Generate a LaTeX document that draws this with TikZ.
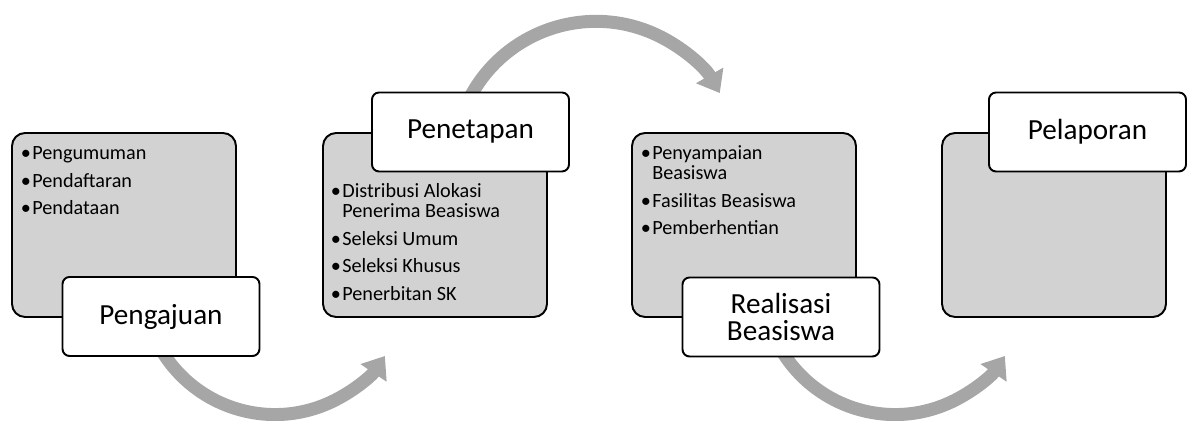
\documentclass[tikz,border=0pt]{standalone}
\usepackage{fontspec}
\setmainfont{Carlito}
\usetikzlibrary{arrows.meta, backgrounds}
\definecolor{boxgray}{RGB}{210,210,210}
\definecolor{arrowgray}{RGB}{166,166,166}
\tikzset{
    outer/.style ={draw, fill=boxgray, line width=1.1pt, rounded corners=2.6mm, minimum width=4.48cm, minimum height=3.68cm},
    title/.style ={draw, fill=white, line width=1.1pt, rounded corners=1.4mm, minimum width=3.94cm, minimum height=1.58cm, align=center, font=\fontsize{16.6}{15.9}\selectfont},
    items/.style ={anchor=base west, inner sep=0pt, font=\fontsize{11.5}{11.3}\selectfont},
    flow/.style ={draw=arrowgray, line width=7.4pt, -{Triangle[length=11.6pt, width=17.2pt]}}
}
\newcommand{\bul}[1]{\hangindent=4mm\hangafter=1\noindent\makebox[4mm][l]{\hspace{1.7mm}\textbullet}#1\par}
\newcommand{\blist}[1]{\parbox[t]{4.1cm}{\raggedright\setlength{\parskip}{4.3pt}#1}}

\begin{document}
\begin{tikzpicture}[x=0.02cm, y=0.02cm]
  \useasboundingbox (0,0) rectangle (1187,421);

  \node[outer] (g1) at (124,196) {};
  \node[outer] (g2) at (435,196) {};
  \node[outer] (g3) at (744,196) {};
  \node[outer] (g4) at (1054,196) {};

  \node[items] (l1) at (12,261) {\blist{\bul{Pengumuman}\bul{Pendaftaran}\bul{Pendataan}}};
  \node[items] (l2) at (322,223) {\blist{\bul{Distribusi Alokasi\newline Penerima Beasiswa}\bul{Seleksi Umum}\bul{Seleksi Khusus}\bul{Penerbitan SK}}};
  \node[items] (l3) at (632,261) {\blist{\bul{Penyampaian\newline Beasiswa}\bul{Fasilitas Beasiswa}\bul{Pemberhentian}}};

  \node[title] (t1) at (161,104.5) {Pengajuan};
  \node[title] (t2) at (470.5,289) {Penetapan};
  \node[title] (t3) at (781,104) {Realisasi\\Beasiswa};
  \node[title] (t4) at (1087.5,289) {Pelaporan};

  % arrows behind the boxes
  \begin{scope}[on background layer]
    \coordinate (s1) at (155,82.9);
    \coordinate (s2) at (466.8,317.3);
    \coordinate (s3) at (775,82.9);
    \draw[flow] (s1) arc[start angle=205, end angle=326.1, radius=132.4];
    \draw[flow] (s2) arc[start angle=155, end angle=29.8, radius=142.6];
    \draw[flow] (s3) arc[start angle=205, end angle=326.1, radius=132.4];
  \end{scope}
\end{tikzpicture}
\end{document}
